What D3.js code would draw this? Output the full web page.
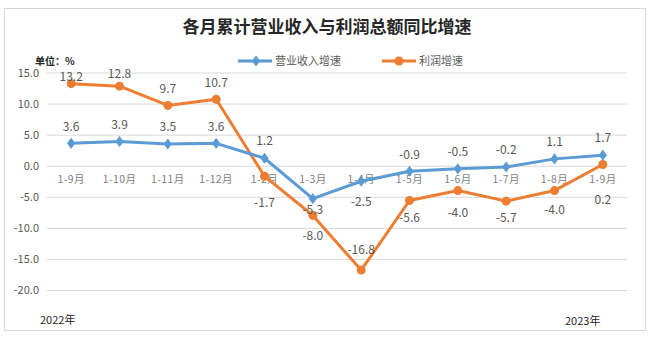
<!DOCTYPE html>
<html>
<head>
<meta charset="utf-8">
<script src="https://cdn.jsdelivr.net/npm/d3@7/dist/d3.min.js"></script>
<style>
  html, body { margin: 0; padding: 0; background: #fff; }
  svg { display: block; }
  text { font-family: "Noto Sans CJK SC", "Noto Sans", sans-serif; }
</style>
</head>
<body>
<svg id="chart" width="653" height="338"></svg>
<script>
// Periods (cumulative months), Oct 2022 report through Sep 2023
const categories = ["1-9月", "1-10月", "1-11月", "1-12月", "1-2月", "1-3月",
                    "1-4月", "1-5月", "1-6月", "1-7月", "1-8月", "1-9月"];
// Year-on-year growth, %
const revenueGrowth = [3.6, 3.9, 3.5, 3.6, 1.2, -5.3, -2.5, -0.9, -0.5, -0.2, 1.1, 1.7];
const profitGrowth  = [13.2, 12.8, 9.7, 10.7, -1.7, -8.0, -16.8, -5.6, -4.0, -5.7, -4.0, 0.2];
const yTicks = [15, 10, 5, 0, -5, -10, -15, -20];
const seriesNames = ["营业收入增速", "利润增速"];

// Vertical offset of each value label from its marker (px)
const revenueLabelDy = [-17, -17, -17, -17, -17, 11, 21, -17, -17, -17, -17, -17];
const profitLabelDy  = [-7, -12, -17, -16, 27, 20, -20, 17, 22, 17, 19, 35];

const svg = d3.select("#chart");
const margin = { left: 47, right: 26, top: 72, bottom: 48 };
const W = 653, H = 338;

// chart frame
svg.append("rect")
  .attr("x", 4.5).attr("y", 8.5).attr("width", 641).attr("height", 322)
  .attr("fill", "#fff").attr("stroke", "#d9d9d9").attr("stroke-width", 1);

const x = d3.scaleBand()
  .domain(d3.range(categories.length))
  .range([margin.left, W - margin.right])
  .padding(0);

const y = d3.scaleLinear()
  .domain([-20, 15])
  .range([290, 72.5]);

// title
svg.append("text")
  .attr("x", 327).attr("y", 33)
  .attr("text-anchor", "middle")
  .attr("font-size", 17).attr("font-weight", 700)
  .attr("fill", "#262626")
  .text("各月累计营业收入与利润总额同比增速");

// unit label
svg.append("text")
  .attr("x", 35).attr("y", 65)
  .attr("font-size", 10).attr("font-weight", 700)
  .attr("fill", "#262626")
  .text("单位：%");

// gridlines + y tick labels via axis
const yAxis = d3.axisLeft(y)
  .tickValues(yTicks)
  .tickSize(-(W - margin.right - margin.left))
  .tickFormat(d3.format(".1f"));

const gy = svg.append("g")
  .attr("transform", `translate(${margin.left},0)`)
  .call(yAxis);
gy.select(".domain").remove();
gy.selectAll(".tick line").attr("stroke", "#d9d9d9").attr("stroke-width", 1);
gy.selectAll(".tick text")
  .attr("x", -8)
  .attr("fill", "#595959")
  .attr("font-size", 11)
  .attr("font-family", "'Liberation Sans Narrow', 'Liberation Sans', sans-serif")
  .text(d => d3.format(".1f")(d).replace("−", "-"));

// category labels next to the zero line
const xAxis = d3.axisBottom(x).tickSize(0).tickFormat(i => categories[i]);
const gx = svg.append("g")
  .attr("transform", `translate(0,${y(0)})`)
  .call(xAxis);
gx.select(".domain").remove();
gx.selectAll(".tick text")
  .attr("dy", 0)
  .attr("y", 17)
  .attr("fill", "#7f7f7f")
  .attr("font-size", 10.5)
  .attr("letter-spacing", 0.4);

const cx = i => x(i) + x.bandwidth() / 2;
const line = d3.line().x((d, i) => cx(i)).y(d => y(d));

const blue = "#5b9bd5", orange = "#ed7d31";

// profit growth
svg.append("path").datum(profitGrowth)
  .attr("d", line).attr("fill", "none")
  .attr("stroke", orange).attr("stroke-width", 3).attr("stroke-linejoin", "round");
svg.append("g").selectAll("circle").data(profitGrowth).join("circle")
  .attr("cx", (d, i) => cx(i)).attr("cy", d => y(d)).attr("r", 4.5)
  .attr("fill", orange);

// revenue growth
svg.append("path").datum(revenueGrowth)
  .attr("d", line).attr("fill", "none")
  .attr("stroke", blue).attr("stroke-width", 3).attr("stroke-linejoin", "round");
const diamond = d3.symbol().type(d3.symbolDiamond).size(44);
svg.append("g").selectAll("path").data(revenueGrowth).join("path")
  .attr("d", diamond)
  .attr("transform", (d, i) => `translate(${cx(i)},${y(d)}) scale(1.15,0.9)`)
  .attr("fill", blue);

// value labels
const fmt = d3.format(".1f");
const labelFont = "'Liberation Sans Narrow', 'Liberation Sans', sans-serif";
svg.append("g").selectAll("text").data(revenueGrowth).join("text")
  .attr("x", (d, i) => cx(i))
  .attr("y", (d, i) => y(d) + revenueLabelDy[i])
  .attr("dy", "0.35em")
  .attr("text-anchor", "middle")
  .attr("font-size", 12).attr("font-family", labelFont)
  .attr("fill", "#595959")
  .text(d => fmt(d).replace("−", "-"));
svg.append("g").selectAll("text").data(profitGrowth).join("text")
  .attr("x", (d, i) => cx(i))
  .attr("y", (d, i) => y(d) + profitLabelDy[i])
  .attr("dy", "0.35em")
  .attr("text-anchor", "middle")
  .attr("font-size", 12).attr("font-family", labelFont)
  .attr("fill", "#595959")
  .text(d => fmt(d).replace("−", "-"));

// legend
const legend = svg.append("g").attr("transform", "translate(0,61)");
legend.append("line").attr("x1", 238).attr("x2", 272).attr("y1", 0).attr("y2", 0)
  .attr("stroke", blue).attr("stroke-width", 3);
legend.append("path").attr("d", diamond).attr("transform", "translate(256,0) scale(1.15,0.9)").attr("fill", blue);
legend.append("text").attr("x", 275).attr("y", 0).attr("dy", "0.35em")
  .attr("font-size", 11).attr("fill", "#595959").text(seriesNames[0]);
legend.append("line").attr("x1", 382).attr("x2", 416).attr("y1", 0).attr("y2", 0)
  .attr("stroke", orange).attr("stroke-width", 3);
legend.append("circle").attr("cx", 399).attr("cy", 0).attr("r", 4.5).attr("fill", orange);
legend.append("text").attr("x", 419).attr("y", 0).attr("dy", "0.35em")
  .attr("font-size", 11).attr("fill", "#595959").text(seriesNames[1]);

// year notes
svg.append("text").attr("x", 40).attr("y", 324)
  .attr("font-size", 11).attr("fill", "#262626")
  .attr("font-family", "'Liberation Serif', serif")
  .text("2022年");
svg.append("text").attr("x", 565).attr("y", 325)
  .attr("font-size", 11).attr("fill", "#262626")
  .attr("font-family", "'Liberation Serif', serif")
  .text("2023年");
</script>
</body>
</html>
